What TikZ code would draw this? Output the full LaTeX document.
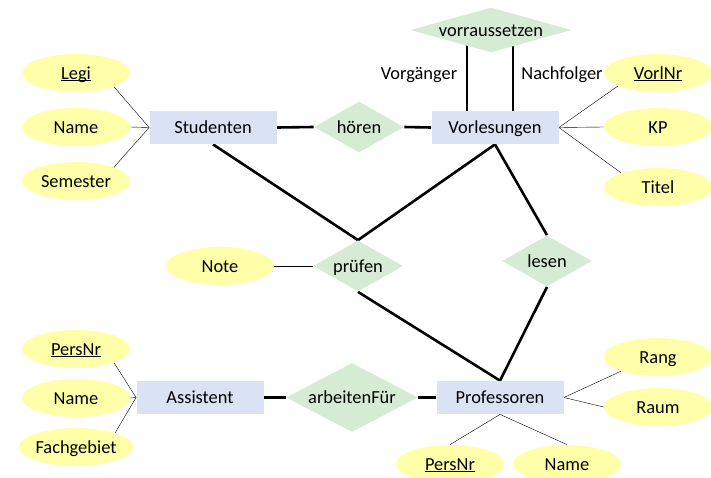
\documentclass[tikz,border=0pt]{standalone}
\usepackage{fontspec}
\setmainfont{Carlito}
\usepackage{xcolor}
\usepackage{tikz}
\definecolor{attrfill}{RGB}{255,255,170}
\definecolor{entfill}{RGB}{218,227,243}
\definecolor{relfill}{RGB}{213,235,212}
\usetikzlibrary{shapes.geometric, positioning, backgrounds}
\newcommand{\key}[1]{\underline{\smash{#1}}}

\begin{document}
\begin{tikzpicture}[x=1pt, y=-1pt, line width=0.8pt, node distance=54pt,
			font=\fontsize{18.4}{22}\selectfont,
			txt/.style={text height=12pt, text depth=0pt, inner sep=0pt},
			attr/.style={txt, ellipse, fill=attrfill, minimum width=108pt, minimum height=38pt},
			ent/.style={txt, rectangle, fill=entfill, minimum width=127pt, minimum height=33pt},
			rel/.style={txt, diamond, fill=relfill, aspect=2, minimum width=90pt, minimum height=51pt},
			link/.style={line width=2.6pt}]
		\useasboundingbox (0, 0) rectangle (711, 477);

		% entities
		\node (stud) [ent] at (213, 127.5) {Studenten};
		\node (vorl) [ent] at (495, 127.5) {Vorlesungen};
		\node (assi) [ent] at (200, 397.5) {Assistent};
		\node (prof) [ent] at (500, 397.5) {Professoren};

		% relationships
		\node (hoeren) [rel] at (359, 127) {hören};
		\node (pruefen) [rel] at (358, 266) {prüfen};
		\node (lesen) [rel] at (547, 261) {lesen};
		\node (arbeit) [rel, aspect=1.9, minimum width=132pt, minimum height=69pt] at (352, 397.5) {arbeitenFür};
		\node (voraus) [rel, aspect=3.6, minimum width=161pt, minimum height=45pt] at (491, 30) {vorraussetzen};

		% attributes
		\node (legi) [attr] at (76, 73) {\key{Legi}};
		\node (sname) [attr, below of=legi] {Name};
		\node (sem) [attr, below of=sname] {Semester};

		\node (vnr) [attr] at (658, 73) {\key{VorlNr}};
		\node (kp) [attr] at (658, 127) {KP};
		\node (titel) [attr] at (658, 187) {Titel};

		\node (note) [attr] at (220, 266) {Note};

		\node (apers) [attr] at (76, 349) {\key{PersNr}};
		\node (aname) [attr, node distance=49pt, below of=apers] {Name};
		\node (fach) [attr, node distance=49pt, below of=aname] {Fachgebiet};

		\node (rang) [attr] at (658, 357) {Rang};
		\node (raum) [attr] at (658, 407) {Raum};
		\node (ppers) [attr] at (450, 464) {\key{PersNr}};
		\node (pname) [attr] at (567, 464) {Name};

		% roles
		\node (vorg) [txt] at (419, 73) {Vorgänger};
		\node (nachf) [txt] at (562, 73) {Nachfolger};

		\begin{scope}[on background layer]
			\draw[link] (stud.east) -- (hoeren.west);
			\draw[link] (hoeren.east) -- (vorl.west);
			\draw[link] (stud.south) -- (pruefen.north);
			\draw[link] (vorl.south) -- (pruefen.north);
			\draw[link] (pruefen.south) -- (prof.north);
			\draw[link] (vorl.south) -- (lesen.north);
			\draw[link] (lesen.south) -- (prof.north);
			\draw[link] (assi.east) -- (arbeit.west);
			\draw[link] (arbeit.east) -- (prof.west);
			\draw[link] ([xshift=-28pt]vorl.north) -- ([xshift=-28pt]vorl.north |- voraus.center);
			\draw[link] ([xshift=18pt]vorl.north) -- ([xshift=18pt]vorl.north |- voraus.center);

			\foreach \a in {legi.-20, sname.east, sem.20}
				\draw (stud.west) -- (\a);
			\foreach \a in {vnr.198, kp.west, titel.159}
				\draw (vorl.east) -- (\a);
			\foreach \a in {apers.-20, aname.east, fach.20}
				\draw (assi.west) -- (\a);
			\foreach \a in {rang.201, raum.west}
				\draw (prof.east) -- (\a);
			\foreach \a in {ppers.north, pname.north}
				\draw (prof.south) -- (\a);
			\draw (note.east) -- (pruefen.west);
		\end{scope}

		%\node [below=2pt of voraus] {};
	\end{tikzpicture}
\end{document}
